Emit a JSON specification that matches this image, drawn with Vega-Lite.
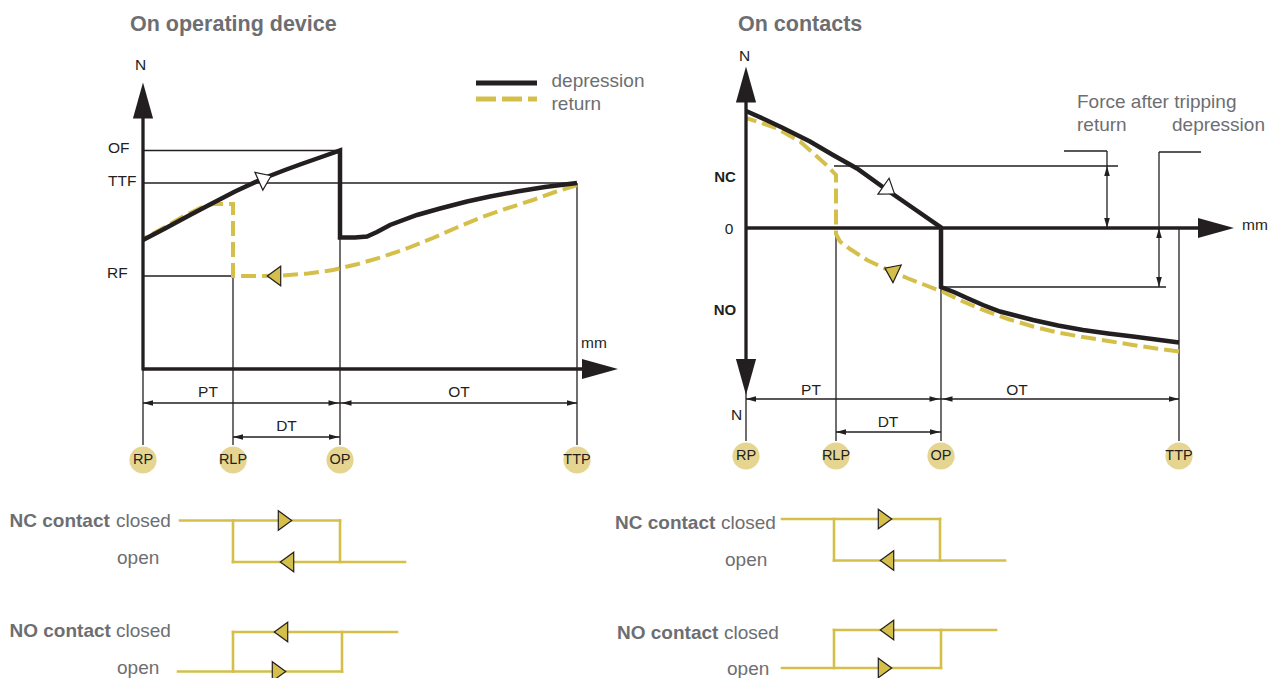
{
  "$schema": "https://vega.github.io/schema/vega-lite/v6.json",
  "width": 1274,
  "height": 678,
  "padding": 0,
  "autosize": {"type": "none"},
  "background": "white",
  "config": {"view": {"stroke": null}},
  "datasets": {
    "thin": [
      {"x":143,"y":150.5,"x2":340,"y2":150.5},
      {"x":143,"y":183,"x2":577,"y2":183},
      {"x":143,"y":276,"x2":233,"y2":276},
      {"x":233,"y":276,"x2":233,"y2":445},
      {"x":340,"y":237,"x2":340,"y2":445},
      {"x":577,"y":183,"x2":577,"y2":445},
      {"x":143,"y":369,"x2":143,"y2":445},
      {"x":143,"y":403,"x2":577,"y2":403},
      {"x":233,"y":437,"x2":340,"y2":437},
      {"x":834,"y":166,"x2":1118,"y2":166},
      {"x":941,"y":287,"x2":1166,"y2":287},
      {"x":1064,"y":151,"x2":1107,"y2":151},
      {"x":1107,"y":151,"x2":1107,"y2":228},
      {"x":1159,"y":152,"x2":1201,"y2":152},
      {"x":1159,"y":152,"x2":1159,"y2":287},
      {"x":1179,"y":228,"x2":1179,"y2":441},
      {"x":941,"y":287,"x2":941,"y2":441},
      {"x":836,"y":233,"x2":836,"y2":441},
      {"x":746,"y":378,"x2":746,"y2":441},
      {"x":746,"y":399,"x2":1179,"y2":399},
      {"x":836,"y":432,"x2":941,"y2":432}
    ],
    "axes": [
      {"x":143,"y":370.5,"x2":143,"y2":105},
      {"x":143,"y":369,"x2":600,"y2":369},
      {"x":746,"y":90,"x2":746,"y2":375},
      {"x":746,"y":228,"x2":1215,"y2":228}
    ],
    "arrowsBig": [
      {"x":143,"y":82.5,"dir":"up"},
      {"x":618,"y":369,"dir":"right"},
      {"x":746,"y":66.5,"dir":"up"},
      {"x":746,"y":395,"dir":"down"},
      {"x":1234,"y":228,"dir":"right"}
    ],
    "arrowsSmall": [
      {"x":143,"y":403,"dir":"left"},
      {"x":338.5,"y":403,"dir":"right"},
      {"x":341.5,"y":403,"dir":"left"},
      {"x":577,"y":403,"dir":"right"},
      {"x":233,"y":437,"dir":"left"},
      {"x":339,"y":437,"dir":"right"},
      {"x":746,"y":399,"dir":"left"},
      {"x":939.5,"y":399,"dir":"right"},
      {"x":942.5,"y":399,"dir":"left"},
      {"x":1179,"y":399,"dir":"right"},
      {"x":836,"y":432,"dir":"left"},
      {"x":940,"y":432,"dir":"right"},
      {"x":1107,"y":166,"dir":"up"},
      {"x":1107,"y":228,"dir":"down"},
      {"x":1159,"y":228,"dir":"up"},
      {"x":1159,"y":287,"dir":"down"}
    ],
    "curves": [
      {"panel":"L","series":"depression","o":1,"x":143,"y":240},
      {"panel":"L","series":"depression","o":2,"x":165,"y":228.5},
      {"panel":"L","series":"depression","o":3,"x":190,"y":215},
      {"panel":"L","series":"depression","o":4,"x":210,"y":204.5},
      {"panel":"L","series":"depression","o":5,"x":235,"y":191.5},
      {"panel":"L","series":"depression","o":6,"x":263,"y":178.5},
      {"panel":"L","series":"depression","o":7,"x":285,"y":170},
      {"panel":"L","series":"depression","o":8,"x":300,"y":164.5},
      {"panel":"L","series":"depression","o":9,"x":320,"y":157.5},
      {"panel":"L","series":"depression","o":10,"x":340,"y":150.5},
      {"panel":"L","series":"depression","o":11,"x":340,"y":237.5},
      {"panel":"L","series":"depression","o":12,"x":355,"y":237.5},
      {"panel":"L","series":"depression","o":13,"x":367,"y":236.5},
      {"panel":"L","series":"depression","o":14,"x":377,"y":232},
      {"panel":"L","series":"depression","o":15,"x":390,"y":225},
      {"panel":"L","series":"depression","o":16,"x":417,"y":215},
      {"panel":"L","series":"depression","o":17,"x":440,"y":208.5},
      {"panel":"L","series":"depression","o":18,"x":467,"y":201.5},
      {"panel":"L","series":"depression","o":19,"x":490,"y":196.5},
      {"panel":"L","series":"depression","o":20,"x":517,"y":191.5},
      {"panel":"L","series":"depression","o":21,"x":545,"y":187},
      {"panel":"L","series":"depression","o":22,"x":577,"y":183},
      {"panel":"L","series":"return","o":1,"x":577,"y":185},
      {"panel":"L","series":"return","o":2,"x":555,"y":192},
      {"panel":"L","series":"return","o":3,"x":533,"y":200},
      {"panel":"L","series":"return","o":4,"x":508,"y":208},
      {"panel":"L","series":"return","o":5,"x":483,"y":216.7},
      {"panel":"L","series":"return","o":6,"x":458,"y":227},
      {"panel":"L","series":"return","o":7,"x":433,"y":238},
      {"panel":"L","series":"return","o":8,"x":408,"y":248},
      {"panel":"L","series":"return","o":9,"x":383,"y":256.7},
      {"panel":"L","series":"return","o":10,"x":358,"y":264},
      {"panel":"L","series":"return","o":11,"x":333,"y":270},
      {"panel":"L","series":"return","o":12,"x":308,"y":273.5},
      {"panel":"L","series":"return","o":13,"x":283,"y":275.5},
      {"panel":"L","series":"return","o":14,"x":258,"y":276},
      {"panel":"L","series":"return","o":15,"x":233,"y":276},
      {"panel":"L","series":"return","o":16,"x":233,"y":204},
      {"panel":"L","series":"return","o":17,"x":213,"y":204},
      {"panel":"L","series":"return","o":18,"x":200,"y":208},
      {"panel":"L","series":"return","o":19,"x":185,"y":215.5},
      {"panel":"L","series":"return","o":20,"x":165,"y":227},
      {"panel":"L","series":"return","o":21,"x":143,"y":239},
      {"panel":"R","series":"depression","o":1,"x":746,"y":111},
      {"panel":"R","series":"depression","o":2,"x":765,"y":119.5},
      {"panel":"R","series":"depression","o":3,"x":783,"y":128},
      {"panel":"R","series":"depression","o":4,"x":810,"y":141.5},
      {"panel":"R","series":"depression","o":5,"x":833,"y":155},
      {"panel":"R","series":"depression","o":6,"x":857,"y":168.5},
      {"panel":"R","series":"depression","o":7,"x":887,"y":190},
      {"panel":"R","series":"depression","o":8,"x":913,"y":208},
      {"panel":"R","series":"depression","o":9,"x":941,"y":227.5},
      {"panel":"R","series":"depression","o":10,"x":941,"y":287},
      {"panel":"R","series":"depression","o":11,"x":955,"y":292.5},
      {"panel":"R","series":"depression","o":12,"x":967,"y":298},
      {"panel":"R","series":"depression","o":13,"x":983,"y":305},
      {"panel":"R","series":"depression","o":14,"x":1000,"y":311.5},
      {"panel":"R","series":"depression","o":15,"x":1033,"y":320},
      {"panel":"R","series":"depression","o":16,"x":1058,"y":325.5},
      {"panel":"R","series":"depression","o":17,"x":1083,"y":330},
      {"panel":"R","series":"depression","o":18,"x":1108,"y":333.5},
      {"panel":"R","series":"depression","o":19,"x":1133,"y":336.5},
      {"panel":"R","series":"depression","o":20,"x":1179,"y":342.5},
      {"panel":"R","series":"return","o":1,"x":1179,"y":351.5},
      {"panel":"R","series":"return","o":2,"x":1156,"y":348.5},
      {"panel":"R","series":"return","o":3,"x":1133,"y":345},
      {"panel":"R","series":"return","o":4,"x":1108,"y":341},
      {"panel":"R","series":"return","o":5,"x":1083,"y":337},
      {"panel":"R","series":"return","o":6,"x":1058,"y":332.5},
      {"panel":"R","series":"return","o":7,"x":1033,"y":326.5},
      {"panel":"R","series":"return","o":8,"x":1008,"y":319},
      {"panel":"R","series":"return","o":9,"x":983,"y":310},
      {"panel":"R","series":"return","o":10,"x":963,"y":301.5},
      {"panel":"R","series":"return","o":11,"x":943,"y":292},
      {"panel":"R","series":"return","o":12,"x":925,"y":285},
      {"panel":"R","series":"return","o":13,"x":907,"y":278},
      {"panel":"R","series":"return","o":14,"x":887,"y":269.5},
      {"panel":"R","series":"return","o":15,"x":867,"y":260},
      {"panel":"R","series":"return","o":16,"x":850,"y":249},
      {"panel":"R","series":"return","o":17,"x":840,"y":241.5},
      {"panel":"R","series":"return","o":18,"x":836,"y":234},
      {"panel":"R","series":"return","o":19,"x":836,"y":175},
      {"panel":"R","series":"return","o":20,"x":828,"y":166.5},
      {"panel":"R","series":"return","o":21,"x":817,"y":156.5},
      {"panel":"R","series":"return","o":22,"x":800,"y":141.5},
      {"panel":"R","series":"return","o":23,"x":777,"y":128.5},
      {"panel":"R","series":"return","o":24,"x":760,"y":122.5},
      {"panel":"R","series":"return","o":25,"x":746,"y":118}
    ],
    "contacts": [
      {"x":180,"y":520.5,"x2":340,"y2":520.5},
      {"x":233,"y":520.5,"x2":233,"y2":562},
      {"x":233,"y":562,"x2":405,"y2":562},
      {"x":340,"y":520.5,"x2":340,"y2":562},
      {"x":233,"y":632,"x2":397,"y2":632},
      {"x":233,"y":632,"x2":233,"y2":671.5},
      {"x":178,"y":671.5,"x2":342,"y2":671.5},
      {"x":342,"y":632,"x2":342,"y2":671.5},
      {"x":782,"y":519,"x2":940,"y2":519},
      {"x":834,"y":519,"x2":834,"y2":560.5},
      {"x":834,"y":560.5,"x2":1005,"y2":560.5},
      {"x":940,"y":519,"x2":940,"y2":560.5},
      {"x":834,"y":630,"x2":996,"y2":630},
      {"x":834,"y":630,"x2":834,"y2":668},
      {"x":782,"y":668,"x2":941,"y2":668},
      {"x":941,"y":630,"x2":941,"y2":668}
    ],
    "markers": [
      {"x":265,"y":178.5,"kind":"depression","heading":336},
      {"x":274,"y":276,"kind":"return","heading":180},
      {"x":889,"y":190,"kind":"depression","heading":35},
      {"x":891,"y":271,"kind":"return","heading":205},
      {"x":285,"y":520.5,"kind":"contact","heading":0},
      {"x":287,"y":562,"kind":"contact","heading":180},
      {"x":281,"y":632,"kind":"contact","heading":180},
      {"x":279,"y":671.5,"kind":"contact","heading":0},
      {"x":885,"y":519,"kind":"contact","heading":0},
      {"x":887,"y":560.5,"kind":"contact","heading":180},
      {"x":887,"y":630,"kind":"contact","heading":180},
      {"x":885,"y":668,"kind":"contact","heading":0}
    ],
    "legend": [
      {"x":476,"y":83,"x2":537,"y2":83,"series":"depression"},
      {"x":476,"y":99,"x2":537,"y2":99,"series":"return"}
    ],
    "circles": [
      {"x":143,"y":460,"label":"RP"},
      {"x":233,"y":460,"label":"RLP"},
      {"x":340,"y":460,"label":"OP"},
      {"x":577,"y":460,"label":"TTP"},
      {"x":746,"y":456,"label":"RP"},
      {"x":836,"y":456,"label":"RLP"},
      {"x":941,"y":456,"label":"OP"},
      {"x":1179,"y":456,"label":"TTP"}
    ],
    "labelsC": [
      {"x":140.5,"y":65,"t":"N"},
      {"x":208,"y":392,"t":"PT"},
      {"x":459,"y":392,"t":"OT"},
      {"x":286.5,"y":426,"t":"DT"},
      {"x":744.5,"y":55.5,"t":"N"},
      {"x":729,"y":228.5,"t":"0"},
      {"x":736.5,"y":414.5,"t":"N"},
      {"x":811,"y":389.5,"t":"PT"},
      {"x":1017,"y":389.5,"t":"OT"},
      {"x":888,"y":422,"t":"DT"}
    ],
    "labelsL": [
      {"x":108,"y":147.5,"t":"OF"},
      {"x":108,"y":180.5,"t":"TTF"},
      {"x":107,"y":273,"t":"RF"}
    ],
    "labelsMM": [
      {"x":581,"y":347.5,"t":"mm"},
      {"x":1242,"y":229.5,"t":"mm"}
    ],
    "labelsBold": [
      {"x":725,"y":176.5,"t":"NC"},
      {"x":725,"y":309.5,"t":"NO"}
    ],
    "titles": [
      {"x":130,"y":31,"t":"On operating device"},
      {"x":738,"y":31,"t":"On contacts"}
    ],
    "greyText": [
      {"x":551.5,"y":86.5,"t":"depression"},
      {"x":551.5,"y":109.5,"t":"return"},
      {"x":1077,"y":108,"t":"Force after tripping"},
      {"x":1077,"y":130.5,"t":"return"},
      {"x":1172,"y":130.5,"t":"depression"},
      {"x":116,"y":527,"t":"closed"},
      {"x":117,"y":563.5,"t":"open"},
      {"x":116,"y":637,"t":"closed"},
      {"x":117,"y":673.5,"t":"open"},
      {"x":721,"y":529,"t":"closed"},
      {"x":725,"y":566,"t":"open"},
      {"x":724,"y":638.5,"t":"closed"},
      {"x":727,"y":675,"t":"open"}
    ],
    "greyBold": [
      {"x":9.5,"y":527,"t":"NC contact"},
      {"x":9.5,"y":637,"t":"NO contact"},
      {"x":615,"y":529,"t":"NC contact"},
      {"x":617,"y":638.5,"t":"NO contact"}
    ]
  },
  "encoding": {
    "x": {"field":"x","type":"quantitative","scale":{"domain":[0,1274],"nice":false,"zero":false},"axis":null},
    "y": {"field":"y","type":"quantitative","scale":{"domain":[0,678],"nice":false,"zero":false,"reverse":true},"axis":null}
  },
  "layer": [
    {
      "data": {"name":"thin"},
      "mark": {"type":"rule","color":"#231F20","strokeWidth":1.3},
      "encoding": {"x2":{"field":"x2"},"y2":{"field":"y2"}}
    },
    {
      "data": {"name":"curves"},
      "transform": [{"filter":"datum.series === 'return'"}],
      "mark": {"type":"line","color":"#D5BF4B","strokeWidth":4,"strokeDash":[15,6]},
      "encoding": {"detail":{"field":"panel"},"order":{"field":"o","type":"quantitative"}}
    },
    {
      "data": {"name":"curves"},
      "transform": [{"filter":"datum.series === 'depression'"}],
      "mark": {"type":"line","color":"#231F20","strokeWidth":4.5},
      "encoding": {"detail":{"field":"panel"},"order":{"field":"o","type":"quantitative"}}
    },
    {
      "data": {"name":"axes"},
      "mark": {"type":"rule","color":"#231F20","strokeWidth":3.3},
      "encoding": {"x2":{"field":"x2"},"y2":{"field":"y2"}}
    },
    {
      "data": {"name":"arrowsBig"},
      "mark": {"type":"point","filled":true,"size":1296,"color":"#231F20","opacity":1,"strokeWidth":0},
      "encoding": {"shape":{"field":"dir","type":"nominal","legend":null,"scale":{"domain":["left","right","up","down"],"range":["M0,0L2,-0.56L2,0.56Z","M0,0L-2,-0.56L-2,0.56Z","M0,0L-0.56,2L0.56,2Z","M0,0L-0.56,-2L0.56,-2Z"]}}}
    },
    {
      "data": {"name":"arrowsSmall"},
      "mark": {"type":"point","filled":true,"size":100,"color":"#231F20","opacity":1,"strokeWidth":0},
      "encoding": {"shape":{"field":"dir","type":"nominal","legend":null,"scale":{"domain":["left","right","up","down"],"range":["M0,0L2,-0.6L2,0.6Z","M0,0L-2,-0.6L-2,0.6Z","M0,0L-0.6,2L0.6,2Z","M0,0L-0.6,-2L0.6,-2Z"]}}}
    },
    {
      "data": {"name":"circles"},
      "mark": {"type":"point","shape":"circle","filled":true,"size":740,"color":"#E5D591","opacity":1,"strokeWidth":0},
      "encoding": {}
    },
    {
      "data": {"name":"circles"},
      "mark": {"type":"text","font":"Liberation Sans","fontSize":14.5,"color":"#231F20","align":"center","baseline":"middle"},
      "encoding": {"text":{"field":"label"}}
    },
    {
      "data": {"name":"contacts"},
      "mark": {"type":"rule","color":"#D5BF4B","strokeWidth":2.6,"strokeCap":"square"},
      "encoding": {"x2":{"field":"x2"},"y2":{"field":"y2"}}
    },
    {
      "data": {"name":"markers"},
      "mark": {"type":"point","shape":"M1,0L-1,-1.45L-1,1.45Z","size":180,"filled":true,"stroke":"#231F20","strokeWidth":1.2,"opacity":1},
      "encoding": {
        "fill":{"field":"kind","type":"nominal","legend":null,"scale":{"domain":["depression","return","contact"],"range":["#ffffff","#D5BF4B","#D5BF4B"]}},
        "angle":{"field":"heading","type":"quantitative","scale":{"domain":[0,360],"range":[0,360]}}
      }
    },
    {
      "data": {"name":"legend"},
      "transform": [{"filter":"datum.series === 'depression'"}],
      "mark": {"type":"rule","color":"#231F20","strokeWidth":5},
      "encoding": {"x2":{"field":"x2"},"y2":{"field":"y2"}}
    },
    {
      "data": {"name":"legend"},
      "transform": [{"filter":"datum.series === 'return'"}],
      "mark": {"type":"rule","color":"#D5BF4B","strokeWidth":5,"strokeDash":[20,6]},
      "encoding": {"x2":{"field":"x2"},"y2":{"field":"y2"}}
    },
    {
      "data": {"name":"labelsC"},
      "mark": {"type":"text","font":"Liberation Sans","fontSize":15.5,"color":"#231F20","align":"center","baseline":"middle"},
      "encoding": {"text":{"field":"t"}}
    },
    {
      "data": {"name":"labelsL"},
      "mark": {"type":"text","font":"Liberation Sans","fontSize":15.5,"color":"#231F20","align":"left","baseline":"middle"},
      "encoding": {"text":{"field":"t"}}
    },
    {
      "data": {"name":"labelsMM"},
      "mark": {"type":"text","font":"Liberation Sans","fontSize":15.5,"color":"#231F20","align":"left","baseline":"alphabetic"},
      "encoding": {"text":{"field":"t"}}
    },
    {
      "data": {"name":"labelsBold"},
      "mark": {"type":"text","font":"Liberation Sans","fontSize":15,"fontWeight":"bold","color":"#231F20","align":"center","baseline":"middle"},
      "encoding": {"text":{"field":"t"}}
    },
    {
      "data": {"name":"titles"},
      "mark": {"type":"text","font":"Liberation Sans","fontSize":21.5,"fontWeight":"bold","color":"#6D6E71","align":"left","baseline":"alphabetic"},
      "encoding": {"text":{"field":"t"}}
    },
    {
      "data": {"name":"greyText"},
      "mark": {"type":"text","font":"Liberation Sans","fontSize":19,"color":"#6D6E71","align":"left","baseline":"alphabetic"},
      "encoding": {"text":{"field":"t"}}
    },
    {
      "data": {"name":"greyBold"},
      "mark": {"type":"text","font":"Liberation Sans","fontSize":19,"fontWeight":"bold","color":"#6D6E71","align":"left","baseline":"alphabetic"},
      "encoding": {"text":{"field":"t"}}
    }
  ]
}
